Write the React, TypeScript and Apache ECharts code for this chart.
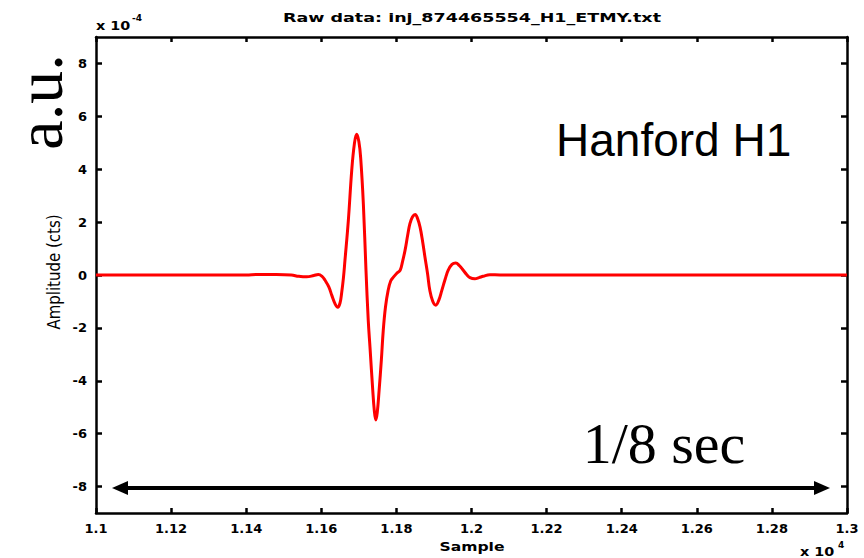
import React, { useEffect, useRef } from "react";
import * as echarts from "echarts";

// Sample index (x axis, raw samples) and amplitude in units of 1e-4 cts
const samples = [
  11000, 11400, 11430, 11480, 11520, 11540, 11561, 11580, 11592, 11602,
  11610, 11620, 11628, 11637, 11644, 11650, 11654, 11659, 11663, 11672,
  11681, 11688, 11694, 11700, 11705, 11712, 11719, 11725, 11730, 11737,
  11741, 11745, 11749, 11754, 11760, 11765, 11771, 11778, 11785, 11792,
  11800, 11810, 11816, 11823, 11830, 11836, 11843, 11850, 11856, 11863,
  11870, 11876, 11883, 11889, 11897, 11905, 11913, 11921, 11930, 11938,
  11948, 11958, 11968, 11978, 11987, 11996, 12009, 12020, 12031, 12049,
  12076, 12500, 13000,
];
const ampE4 = [
  0, 0, 0.02, 0.02, 0, -0.05, -0.07, -0.02, 0.02, -0.05,
  -0.2, -0.45, -0.77, -1.1, -1.22, -1.05, -0.7, -0.1, 0.55, 2.06,
  3.95, 4.95, 5.32, 5.05, 4.4, 2.69, 0.18, -1.71, -2.8, -4.35,
  -5.1, -5.48, -5.2, -4.35, -3.2, -2.09, -1.2, -0.58, -0.22, -0.08,
  0.05, 0.18, 0.49, 0.93, 1.5, 1.94, 2.2, 2.29, 2.15, 1.81,
  1.25, 0.68, 0.05, -0.58, -1.0, -1.14, -0.95, -0.58, -0.15, 0.18,
  0.4, 0.45, 0.35, 0.18, 0.02, -0.1, -0.14, -0.1, -0.05, 0.01,
  0, 0, 0,
];

const yTickValues = [-8, -6, -4, -2, 0, 2, 4, 6, 8];
const titleText = "Raw data: inj_874465554_H1_ETMY.txt";
const xLabel = "Sample";
const yLabel = "Amplitude (cts)";
const siteLabel = "Hanford H1";
const unitLabel = "a.u.";
const spanLabel = "1/8 sec";

export default function App() {
  const ref = useRef<HTMLDivElement>(null);
  useEffect(() => {
    document.body.style.margin = "0";
    const chart = echarts.init(ref.current!, null, { renderer: "svg" });
    const data = samples.map((s, i) => [s, ampE4[i]]);
    const labelStyle = {
      color: "#000",
      fontFamily: "DejaVu Sans",
      fontWeight: "bold" as const,
      fontSize: 13,
    };
    const lineBlack = { color: "#000", width: 2.5 };
    const xBase = {
      type: "value" as const,
      min: 11000,
      max: 13000,
      interval: 200,
      axisLine: { onZero: false, lineStyle: lineBlack },
      axisTick: { inside: true, length: 5, lineStyle: lineBlack },
      splitLine: { show: false },
    };
    const yBase = {
      type: "value" as const,
      min: -9,
      max: 9,
      interval: 1,
      axisLine: { onZero: false, lineStyle: lineBlack },
      axisTick: { inside: true, length: 6, lineStyle: lineBlack, customValues: yTickValues },
      splitLine: { show: false },
    };
    const txt = (extra: any) => ({
      type: "text",
      silent: true,
      ...extra,
      style: { fill: "#000", ...extra.style },
    });
    chart.setOption({
      animation: false,
      backgroundColor: "#fff",
      grid: { left: 96, right: 17, top: 37, bottom: 45 },
      xAxis: [
        {
          ...xBase,
          position: "bottom",
          axisLabel: {
            ...labelStyle,
            margin: 9,
            formatter: (v: number) => String(parseFloat((v / 1e4).toFixed(3))),
          },
        },
        { ...xBase, position: "top", axisLabel: { show: false } },
      ],
      yAxis: [
        {
          ...yBase,
          position: "left",
          axisLabel: {
            ...labelStyle,
            margin: 9,
            customValues: yTickValues,
            formatter: (v: number) => String(v),
          },
        },
        { ...yBase, position: "right", axisLabel: { show: false } },
      ],
      series: [
        {
          type: "line",
          xAxisIndex: 0,
          yAxisIndex: 0,
          data,
          showSymbol: false,
          smooth: 0.4,
          lineStyle: { color: "#ff0000", width: 3 },
          itemStyle: { color: "#ff0000" },
        },
      ],
      graphic: [
        txt({
          x: 472, y: 18, scaleX: 1.46,
          style: { text: titleText, fontFamily: "DejaVu Sans", fontWeight: "bold", fontSize: 12, align: "center", verticalAlign: "middle" },
        }),
        txt({
          x: 96, y: 26, scaleX: 1.2,
          style: { text: "x 10", fontFamily: "DejaVu Sans", fontWeight: "bold", fontSize: 12, align: "left", verticalAlign: "middle" },
        }),
        txt({
          x: 132, y: 18,
          style: { text: "-4", fontFamily: "DejaVu Sans", fontWeight: "bold", fontSize: 9, align: "left", verticalAlign: "middle" },
        }),
        txt({
          x: 800, y: 552, scaleX: 1.2,
          style: { text: "x 10", fontFamily: "DejaVu Sans", fontWeight: "bold", fontSize: 12, align: "left", verticalAlign: "middle" },
        }),
        txt({
          x: 838, y: 545,
          style: { text: "4", fontFamily: "DejaVu Sans", fontWeight: "bold", fontSize: 9, align: "left", verticalAlign: "middle" },
        }),
        txt({
          x: 472, y: 547, scaleX: 1.3,
          style: { text: xLabel, fontFamily: "DejaVu Sans", fontWeight: "bold", fontSize: 12, align: "center", verticalAlign: "middle" },
        }),
        txt({
          x: 54, y: 272, rotation: Math.PI / 2, scaleY: 1.2,
          style: { text: yLabel, fontFamily: "DejaVu Sans", fontSize: 15, align: "center", verticalAlign: "middle" },
        }),
        txt({
          x: 39, y: 102, rotation: Math.PI / 2,
          style: { text: unitLabel, fontFamily: "Liberation Serif", fontSize: 66, align: "center", verticalAlign: "middle" },
        }),
        txt({
          x: 556, y: 140,
          style: { text: siteLabel, fontFamily: "Liberation Sans", fontSize: 46, align: "left", verticalAlign: "middle" },
        }),
        txt({
          x: 664, y: 443,
          style: { text: spanLabel, fontFamily: "Liberation Serif", fontSize: 58, align: "center", verticalAlign: "middle" },
        }),
        {
          type: "line",
          silent: true,
          shape: { x1: 126, y1: 488, x2: 816, y2: 488 },
          style: { stroke: "#000", lineWidth: 4 },
        },
        {
          type: "polygon",
          silent: true,
          shape: { points: [[112, 488], [128, 481], [128, 495]] },
          style: { fill: "#000" },
        },
        {
          type: "polygon",
          silent: true,
          shape: { points: [[830, 488], [814, 481], [814, 495]] },
          style: { fill: "#000" },
        },
      ],
    });
    return () => chart.dispose();
  }, []);
  return <div ref={ref} style={{ width: 864, height: 558 }} />;
}
